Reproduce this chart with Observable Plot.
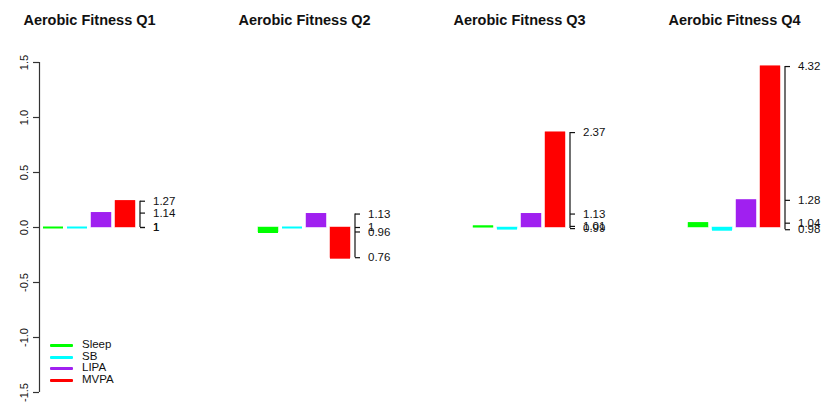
<!DOCTYPE html>
<html>
<head>
<meta charset="utf-8">
<script src="https://cdn.jsdelivr.net/npm/d3@7"></script>
<script src="https://cdn.jsdelivr.net/npm/@observablehq/plot@0.6"></script>
<style>
  html, body { margin: 0; padding: 0; background: #fff; }
  #wrap { position: relative; width: 825px; height: 403px; font-family: "Liberation Sans", Arial, sans-serif; }
  #legend { position: absolute; left: 50px; top: 339px; font-size: 11.5px; color: #111; }
  .item { position: relative; height: 11.5px; line-height: 11.5px; }
  .item .sw { position: absolute; left: 0; top: 5px; width: 23px; height: 3px; border-radius: 1px; }
  .item .lb { position: absolute; left: 32px; top: 0; white-space: nowrap; }
</style>
</head>
<body>
<div id="wrap"></div>
<script>
const quarters = ["Q1", "Q2", "Q3", "Q4"];
const activities = ["Sleep", "SB", "LIPA", "MVPA"];
const colors = ["#00FF00", "#00FFFF", "#A020F0", "#FF0000"];
// odds ratios per quarter, in activity order
const ratiosQ1 = [1.00, 1.00, 1.14, 1.27];
const ratiosQ2 = [0.96, 1.00, 1.13, 0.76];
const ratiosQ3 = [1.01, 0.99, 1.13, 2.37];
const ratiosQ4 = [1.04, 0.98, 1.28, 4.32];
const yTicks = [-1.5, -1.0, -0.5, 0.0, 0.5, 1.0, 1.5];
const yDomain = [-1.5, 1.5];

const ratios = [ratiosQ1, ratiosQ2, ratiosQ3, ratiosQ4];
const rows = quarters.flatMap((q, i) => activities.map((a, j) => ({q, a, ratio: ratios[i][j], lr: Math.log(ratios[i][j])})));
const axisRows = quarters.map((q, i) => ({q, lo: d3.min(ratios[i], Math.log), hi: d3.max(ratios[i], Math.log)}));
const fmt = v => String(+v.toFixed(2));

const tickSymbol = {draw(ctx) { ctx.moveTo(0, 0); ctx.lineTo(5, 0); }};

const chart = Plot.plot({
  width: 825,
  height: 403,
  marginLeft: 41,
  marginRight: 42,
  marginTop: 62,
  marginBottom: 11,
  style: {fontFamily: "Liberation Sans, Arial, sans-serif", color: "#111", background: "#fff"},
  fx: {domain: quarters, paddingInner: 0.553, paddingOuter: 0, axis: null},
  x: {domain: activities, paddingInner: 0.17, paddingOuter: 0.085, axis: null},
  y: {domain: yDomain},
  color: {domain: activities, range: colors},
  marks: [
    Plot.barY(rows, {fx: "q", x: "a", y: "lr", fill: "a", stroke: "a", strokeOpacity: 0.45, strokeWidth: 1}),
    // top edge of each bar (keeps near-zero bars visible as thin lines)
    Plot.tickY(rows, {fx: "q", x: "a", y: "lr", stroke: "a", strokeWidth: 2}),
    // primary axis line
    Plot.ruleX([quarters[0]], {fx: d => d, x: () => activities[0], y1: () => yDomain[0], y2: () => yDomain[1], dx: -14, stroke: "#333", strokeWidth: 1.2}),
    Plot.axisY({ticks: yTicks, tickFormat: d => d.toFixed(1), tickSize: 6, tickRotate: -90, tickPadding: 6, dx: -2, fontSize: 11, label: null, stroke: "#333", strokeWidth: 1.2}),
    // secondary (odds ratio) axes
    Plot.ruleX(axisRows, {fx: "q", x: () => activities[3], y1: "lo", y2: "hi", dx: 14.5, stroke: "#111", strokeWidth: 1.2}),
    Plot.dot(rows, {fx: "q", x: () => activities[3], y: "lr", symbol: tickSymbol, r: 3, stroke: "#111", fill: "none", strokeWidth: 1.2, dx: 14.5}),
    Plot.text(rows, {fx: "q", x: () => activities[3], y: "lr", text: d => fmt(d.ratio), dx: 27.5, textAnchor: "start", fontSize: 11.5, fill: "#111"}),
    // panel titles
    Plot.text(quarters, {fx: d => d, text: d => "Aerobic Fitness " + d, frameAnchor: "top", lineAnchor: "middle", dy: -42, fontWeight: "bold", fontSize: 14.5, fill: "#111"})
  ]
});

const wrap = document.getElementById("wrap");
wrap.appendChild(chart);

const legend = document.createElement("div");
legend.id = "legend";
activities.forEach((a, i) => {
  const item = document.createElement("div");
  item.className = "item";
  item.innerHTML = `<span class="sw" style="background:${colors[i]}"></span><span class="lb">${a}</span>`;
  legend.appendChild(item);
});
wrap.appendChild(legend);
</script>
</body>
</html>
